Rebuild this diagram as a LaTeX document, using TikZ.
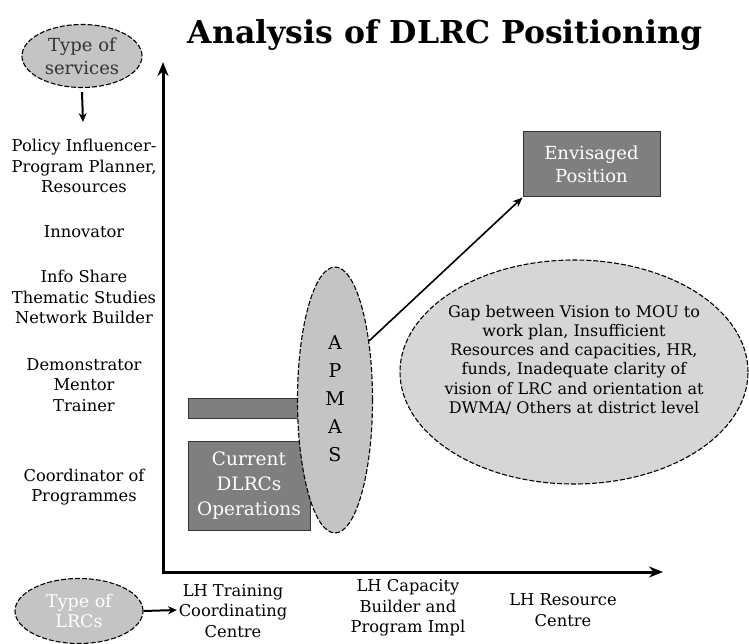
\documentclass[tikz,border=0pt]{standalone}
\usepackage{fontspec}
\setmainfont{DejaVu Serif}
\usetikzlibrary{shapes.geometric,arrows.meta}
\definecolor{ellgray}{HTML}{C4C4C4}
\definecolor{gapgray}{HTML}{D6D6D6}
\definecolor{boxgray}{HTML}{7F7F7F}
\tikzset{
  dashell/.style={ellipse, draw=black, dashed, dash pattern=on 5pt off 2pt, line width=1.1pt, inner sep=0pt},
  darkbox/.style={rectangle, draw=black!80, line width=1pt, fill=boxgray, text=white, align=center, inner sep=0pt},
  lbl/.style={align=center, font=\fontsize{16.3}{20.5}\selectfont, inner sep=0pt},
  axis/.style={line width=3pt, -{Stealth[length=14pt,width=11pt]}},
  smallarr/.style={line width=2pt, -{Stealth[length=9pt,width=8pt]}},
  thinarr/.style={line width=1.6pt, -{Stealth[length=10pt,width=8pt]}}
}
\begin{document}
\begin{tikzpicture}[x=1pt,y=-1pt]
\useasboundingbox (0,0) rectangle (749,644);
% title
\node[font=\fontsize{31.5}{36}\selectfont\bfseries] (title) at (445,35) {Analysis of DLRC Positioning};
% axes
\coordinate (origin) at (163,572);
\coordinate (ytop) at (163,62);
\coordinate (xend) at (663,572);
\draw[axis] (origin) -- (ytop);
\draw[axis] ([xshift=-1.5pt]origin) -- (xend);
% type of services
\node[dashell, fill=ellgray, minimum width=120pt, minimum height=63pt, align=center,
      text=black!80, font=\fontsize{18}{23}\selectfont] (svc) at (82,56) {Type of\\services};
\coordinate (svcend) at (83,122);
\draw[smallarr] (svc.south) ++(0,4) coordinate (svcstart) (svcstart) -- (svcend);
% left labels
\node[lbl] (l1) at (84,166) {Policy Influencer-\\Program Planner,\\Resources};
\node[lbl] (l2) at (84,232) {Innovator};
\node[lbl] (l3) at (84,297) {Info Share\\Thematic Studies\\Network Builder};
\node[lbl] (l4) at (84,385) {Demonstrator\\Mentor\\Trainer};
\node[lbl] (l5) at (84,487) {Coordinator of\\Programmes};
% bars
\node[darkbox, minimum width=122pt, minimum height=20pt] (bar) at (249,408) {};
\node[darkbox, minimum width=122pt, minimum height=89pt, font=\fontsize{18.5}{25}\selectfont] (cur) at (249,485.5) {Current\\DLRCs\\Operations};
% APMAS
\node[dashell, fill=ellgray, minimum width=75pt, minimum height=266pt] (apmas) at (335,400) {};
\node[align=center, font=\fontsize{19}{28}\selectfont] (apmastxt) at (335,399) {A\\P\\M\\A\\S};
% envisaged
\node[darkbox, minimum width=137pt, minimum height=65pt, font=\fontsize{18}{23}\selectfont] (env) at (591.5,164.5) {Envisaged\\Position};
\draw[thinarr] (apmas.60) -- (env.south west);
% gap ellipse
\node[dashell, fill=gapgray, minimum width=348pt, minimum height=224pt] (gap) at (574,372) {};
\node[align=center, font=\fontsize{16}{19.3}\selectfont] (gaptxt) at (574,360)
  {Gap between Vision to MOU to\\work plan, Insufficient\\Resources and capacities, HR,\\funds, Inadequate clarity of\\vision of LRC and orientation at\\DWMA/ Others at district level};
% type of LRCs
\node[dashell, fill=ellgray, minimum width=128pt, minimum height=65pt, align=center,
      text=white, font=\fontsize{17.5}{20.5}\selectfont] (lrc) at (79,611) {Type of\\LRCs};
\coordinate (lrcend) at (177,610);
\draw[smallarr] (lrc.east) -- (lrcend);
% x labels
\node[lbl] (x1) at (233,611) {LH Training\\Coordinating\\Centre};
\node[lbl] (x2) at (408,608) {LH Capacity\\Builder and\\Program Impl};
\node[lbl] (x3) at (563,610) {LH Resource\\Centre};
\end{tikzpicture}
\end{document}
